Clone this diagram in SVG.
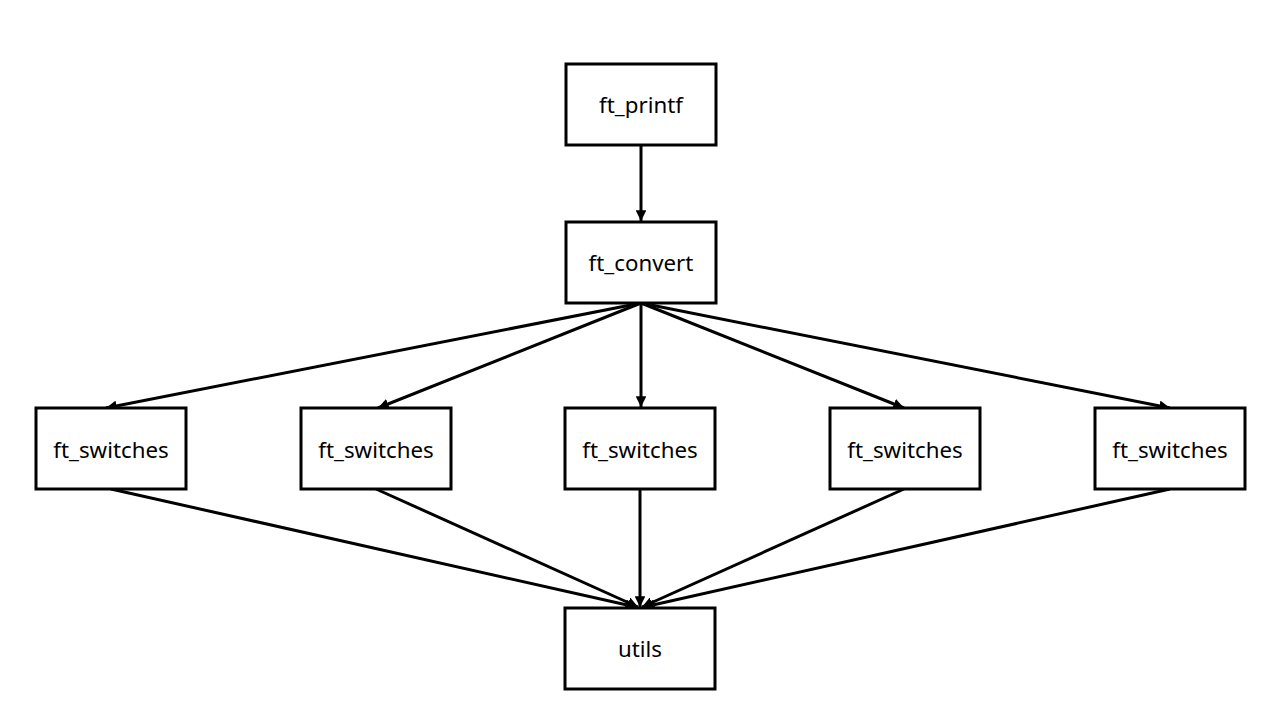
<svg xmlns="http://www.w3.org/2000/svg" width="1280" height="720" viewBox="0 0 1280 720">
<style>
.box{fill:#fff;stroke:#000;stroke-width:3}
.lbl{font-family:"Noto Sans","Open Sans","Liberation Sans",sans-serif;font-size:22.3px;fill:#000;text-anchor:middle;dominant-baseline:central}
.edge{stroke:#000;stroke-width:3;fill:none;marker-end:url(#ah)}
</style>
<defs>
<marker id="ah" viewBox="0 0 10 10" refX="10" refY="5" markerWidth="3.6" markerHeight="3.6" orient="auto" markerUnits="strokeWidth">
<path d="M0,0 L10,5 L0,10 z" fill="#000"/>
</marker>
</defs>
<rect width="1280" height="720" fill="#fff"/>
<g id="connectors">
<line class="edge" x1="641" y1="145" x2="641" y2="221"/>
<line class="edge" x1="641" y1="303" x2="106" y2="408"/>
<line class="edge" x1="641" y1="303" x2="378" y2="408"/>
<line class="edge" x1="641" y1="303" x2="641" y2="407"/>
<line class="edge" x1="641" y1="303" x2="904" y2="408"/>
<line class="edge" x1="641" y1="303" x2="1170" y2="408"/>
<line class="edge" x1="111" y1="489" x2="636" y2="607"/>
<line class="edge" x1="376" y1="489" x2="638" y2="607"/>
<line class="edge" x1="640" y1="489" x2="640" y2="607"/>
<line class="edge" x1="904" y1="489" x2="642" y2="607"/>
<line class="edge" x1="1170" y1="489" x2="644" y2="607"/>
</g>
<g id="n_printf"><rect class="box" x="566" y="64" width="150" height="81"/><text class="lbl" x="641" y="104.5">ft_printf</text></g>
<g id="n_convert"><rect class="box" x="566" y="222" width="150" height="81"/><text class="lbl" x="641" y="262.5">ft_convert</text></g>
<g id="n_sw1"><rect class="box" x="36" y="408" width="150" height="81"/><text class="lbl" x="111" y="449">ft_switches</text></g>
<g id="n_sw2"><rect class="box" x="301" y="408" width="150" height="81"/><text class="lbl" x="376" y="449">ft_switches</text></g>
<g id="n_sw3"><rect class="box" x="565" y="408" width="150" height="81"/><text class="lbl" x="640" y="449">ft_switches</text></g>
<g id="n_sw4"><rect class="box" x="830" y="408" width="150" height="81"/><text class="lbl" x="905" y="449">ft_switches</text></g>
<g id="n_sw5"><rect class="box" x="1095" y="408" width="150" height="81"/><text class="lbl" x="1170" y="449">ft_switches</text></g>
<g id="n_utils"><rect class="box" x="565" y="608" width="150" height="81"/><text class="lbl" x="640" y="648.5">utils</text></g>
</svg>
